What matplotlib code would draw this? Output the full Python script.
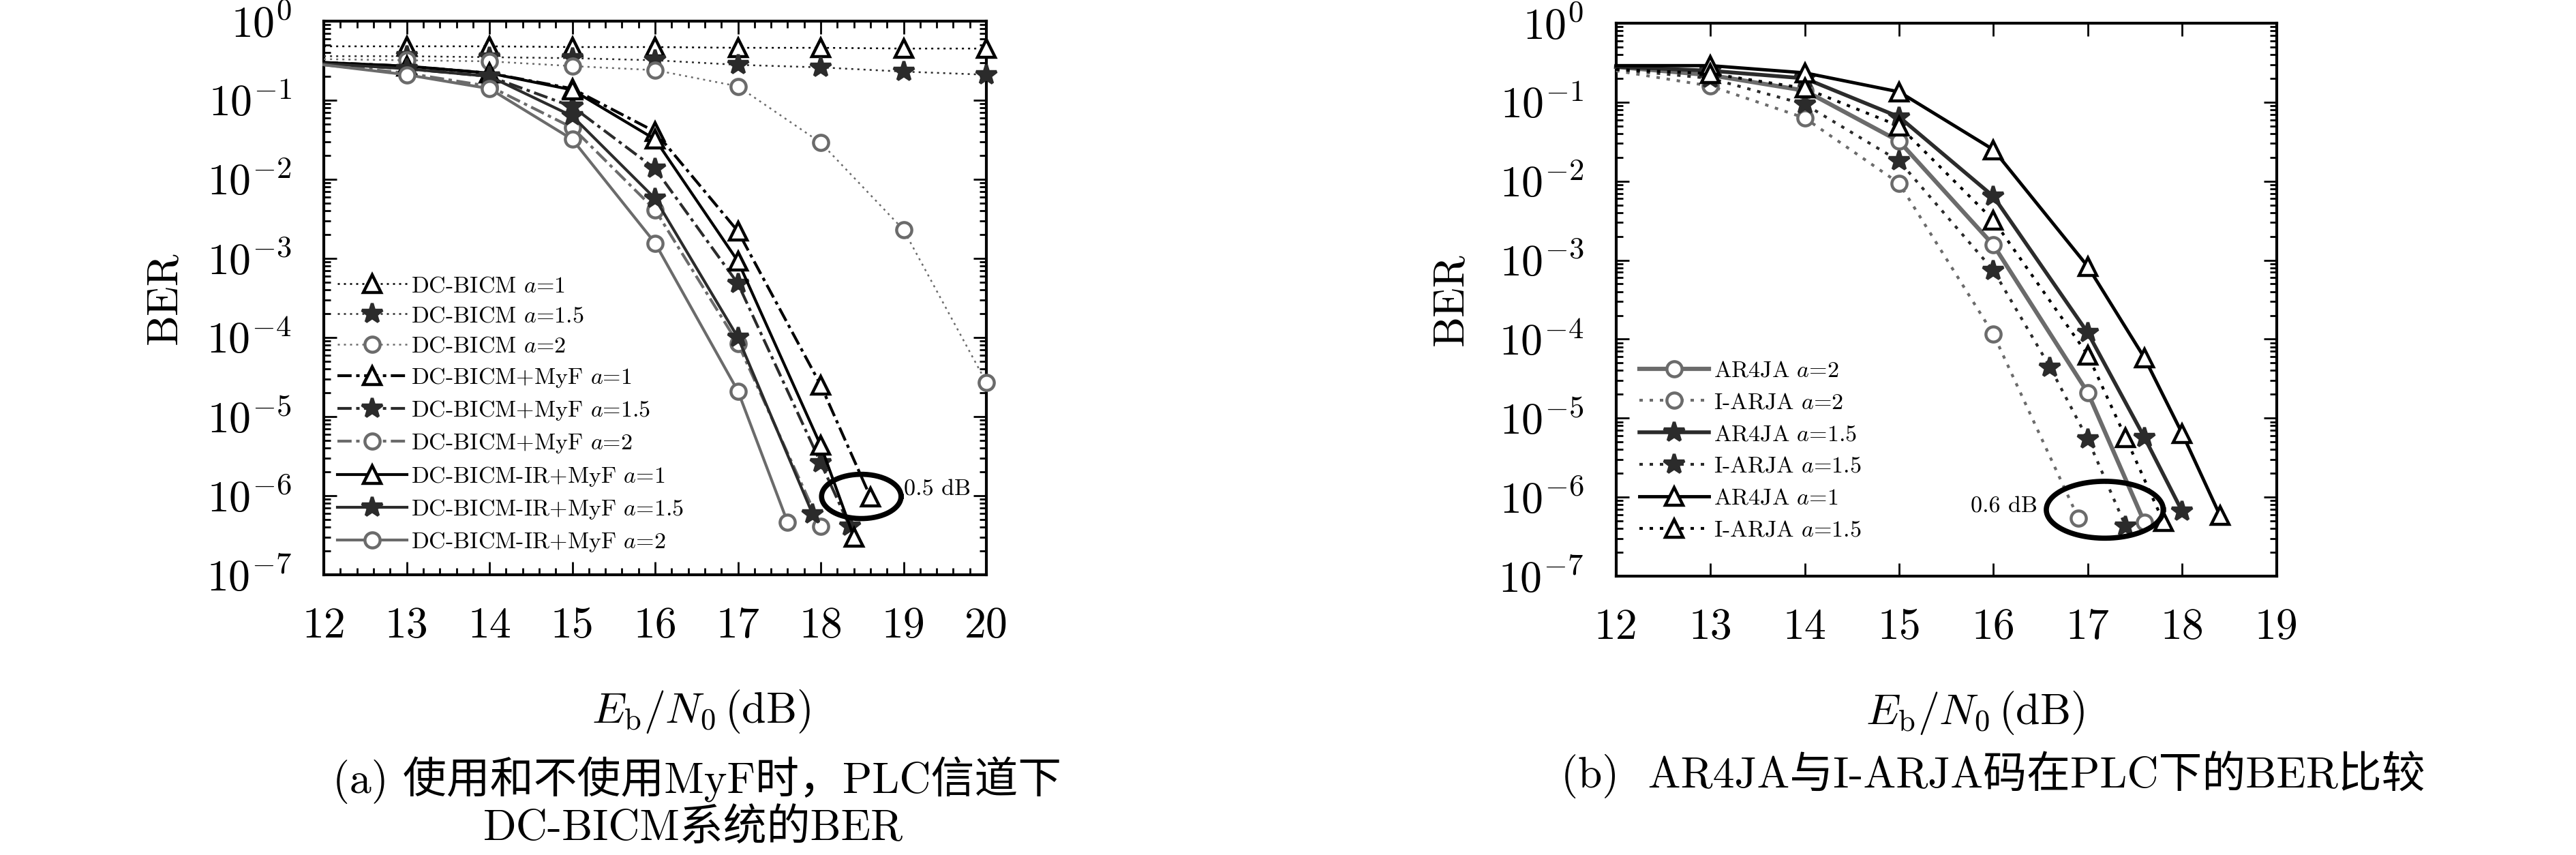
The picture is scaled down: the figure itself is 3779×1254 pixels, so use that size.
"""BER curves: DC-BICM / MyF (a) and AR4JA vs I-ARJA (b)"""
import numpy as np
import matplotlib
matplotlib.use("Agg")
import matplotlib.pyplot as plt
from matplotlib.ticker import FixedLocator, LogLocator, MultipleLocator, NullFormatter

plt.rcParams["font.family"] = ["cmr10", "Noto Sans CJK SC"]
plt.rcParams["mathtext.fontset"] = "cm"
plt.rcParams["axes.unicode_minus"] = False

# ───── Data (a) ────────────────────────────────────────────────────────────
ebn0_dc = [12, 13, 14, 15, 16, 17, 18, 19, 20]
ber_dc_a1 = [0.48, 0.48, 0.48, 0.47, 0.47, 0.46, 0.46, 0.45, 0.45]
ber_dc_a15 = [0.36, 0.36, 0.35, 0.34, 0.32, 0.28, 0.26, 0.23, 0.21]
ber_dc_a2 = [0.33, 0.32, 0.31, 0.27, 0.24, 0.15, 0.029, 2.3e-3, 2.7e-5]

ebn0_myf_a1 = [12, 13, 14, 15, 16, 17, 18, 18.6]
ber_myf_a1 = [0.30, 0.27, 0.22, 0.14, 0.040, 2.2e-3, 2.5e-5, 9.6e-7]
ebn0_myf_a15 = [12, 13, 14, 15, 16, 17, 18, 18.35]
ber_myf_a15 = [0.29, 0.25, 0.20, 0.083, 0.0136, 4.8e-4, 2.6e-6, 4.1e-7]
ebn0_myf_a2 = [12, 13, 14, 15, 16, 17, 18]
ber_myf_a2 = [0.28, 0.22, 0.15, 0.045, 4.1e-3, 8.4e-5, 4.1e-7]

ebn0_ir_a1 = [12, 13, 14, 15, 16, 17, 18, 18.4]
ber_ir_a1 = [0.30, 0.27, 0.22, 0.135, 0.032, 9.2e-4, 4.3e-6, 3.0e-7]
ebn0_ir_a15 = [12, 13, 14, 15, 16, 17, 17.9]
ber_ir_a15 = [0.29, 0.25, 0.20, 0.063, 5.7e-3, 1.0e-4, 5.9e-7]
ebn0_ir_a2 = [12, 13, 14, 15, 16, 17, 17.6]
ber_ir_a2 = [0.28, 0.21, 0.14, 0.032, 1.56e-3, 2.1e-5, 4.6e-7]

labels_a = [
    "DC-BICM $a$=1", "DC-BICM $a$=1.5", "DC-BICM $a$=2",
    "DC-BICM+MyF $a$=1", "DC-BICM+MyF $a$=1.5", "DC-BICM+MyF $a$=2",
    "DC-BICM-IR+MyF $a$=1", "DC-BICM-IR+MyF $a$=1.5", "DC-BICM-IR+MyF $a$=2",
]

# ───── Data (b) ────────────────────────────────────────────────────────────
ebn0_ar_a2 = [12, 13, 14, 15, 16, 17, 17.6]
ber_ar_a2 = [0.28, 0.22, 0.14, 0.032, 1.55e-3, 2.1e-5, 4.8e-7]
ebn0_ia_a2 = [12, 13, 14, 15, 16, 16.9]
ber_ia_a2 = [0.25, 0.16, 0.063, 9.4e-3, 1.15e-4, 5.4e-7]
ebn0_ar_a15 = [12, 13, 14, 15, 16, 17, 17.6, 18]
ber_ar_a15 = [0.28, 0.25, 0.20, 0.065, 6.4e-3, 1.2e-4, 5.7e-6, 6.6e-7]
ebn0_ia_a15 = [12, 13, 14, 15, 16, 16.6, 17, 17.4]
ber_ia_a15 = [0.26, 0.20, 0.094, 0.018, 7.4e-4, 4.4e-5, 5.4e-6, 4.3e-7]
ebn0_ar_a1 = [12, 13, 14, 15, 16, 17, 17.6, 18, 18.4]
ber_ar_a1 = [0.29, 0.29, 0.235, 0.135, 0.025, 8.3e-4, 5.8e-5, 6.4e-6, 5.9e-7]
ebn0_ia_a1 = [12, 13, 14, 15, 16, 17, 17.4, 17.8]
ber_ia_a1 = [0.26, 0.23, 0.15, 0.05, 3.2e-3, 6.3e-5, 5.7e-6, 4.9e-7]

labels_b = [
    "AR4JA $a$=2", "I-ARJA $a$=2", "AR4JA $a$=1.5",
    "I-ARJA $a$=1.5", "AR4JA $a$=1", "I-ARJA $a$=1.5",
]

# ───── Axis ticks / text ──────────────────────────────────────────────────
xticks_a = [12, 13, 14, 15, 16, 17, 18, 19, 20]
xticks_b = [12, 13, 14, 15, 16, 17, 18, 19]
yticks = [1e-7, 1e-6, 1e-5, 1e-4, 1e-3, 1e-2, 1e-1, 1e0]
ytick_labels = ["$10^{%d}$" % e for e in range(-7, 1)]
caption_a = ["(a) 使用和不使用MyF时，PLC信道下", "DC-BICM系统的BER"]
caption_b = "(b)  AR4JA与I-ARJA码在PLC下的BER比较"
note_a = "0.5 dB"
note_b = "0.6 dB"

# ───── Styles ──────────────────────────────────────────────────────────────
BLACK, DARK, GRAY = "#000000", "#2b2b2b", "#6b6b6b"
DOT = (0, (1.2, 2.4))
DASHDOT = (0, (5, 1.6, 1.2, 1.6))
TICK_FS = 46
LEG_FS = 24.5
MS = {"^": 19, "*": 22, "o": 16}

fig = plt.figure(figsize=(37.8, 12.54), dpi=100)
ax_a = fig.add_axes([0.1257, 0.3278, 0.2571, 0.6475])
ax_b = fig.add_axes([0.6272, 0.3262, 0.2563, 0.6467])


def curve(ax, x, y, color, ls, marker, lw, label):
    filled = marker == "*"
    ax.plot(x, y, color=color, linestyle=ls, linewidth=lw, marker=marker,
            markersize=MS[marker], markeredgewidth=3.2,
            markerfacecolor=color if filled else "white",
            markeredgecolor=color, markevery=slice(1, None), label=label,
            clip_on=False, zorder=3)


def ellipse(ax, cx, clog, rx, rlog):
    t = np.linspace(0, 2 * np.pi, 200)
    ax.plot(cx + rx * np.cos(t), 10 ** (clog + rlog * np.sin(t)),
            color="black", linewidth=5.5, zorder=4)


def style_axes(ax, xmax, xticks):
    ax.set_yscale("log")
    ax.set_ylim(1e-7, 1)
    ax.set_xlim(12, xmax)
    ax.set_xticks(xticks)
    ax.set_xticklabels([str(v) for v in xticks], fontsize=TICK_FS)
    ax.yaxis.set_major_locator(FixedLocator(yticks))
    ax.set_yticklabels(ytick_labels, fontsize=TICK_FS)
    ax.yaxis.set_minor_locator(LogLocator(base=10, subs=np.arange(2, 10)))
    ax.yaxis.set_minor_formatter(NullFormatter())
    ax.tick_params(which="both", direction="in", top=True, right=True, width=2)
    ax.tick_params(which="major", length=14, pad=34)
    ax.tick_params(which="minor", length=7)
    for s in ax.spines.values():
        s.set_linewidth(3)
    ax.set_ylabel("BER", fontsize=TICK_FS)
    ax.set_xlabel(r"$E_{\rm b}/N_0\,({\rm dB})$", fontsize=TICK_FS)


# ───── Plot (a) ────────────────────────────────────────────────────────────
curve(ax_a, ebn0_dc, ber_dc_a1, BLACK, DOT, "^", 1.8, labels_a[0])
curve(ax_a, ebn0_dc, ber_dc_a15, DARK, DOT, "*", 1.8, labels_a[1])
curve(ax_a, ebn0_dc, ber_dc_a2, GRAY, DOT, "o", 1.8, labels_a[2])
curve(ax_a, ebn0_myf_a1, ber_myf_a1, BLACK, DASHDOT, "^", 3.0, labels_a[3])
curve(ax_a, ebn0_myf_a15, ber_myf_a15, DARK, DASHDOT, "*", 3.0, labels_a[4])
curve(ax_a, ebn0_myf_a2, ber_myf_a2, GRAY, DASHDOT, "o", 3.0, labels_a[5])
curve(ax_a, ebn0_ir_a1, ber_ir_a1, BLACK, "-", "^", 3.0, labels_a[6])
curve(ax_a, ebn0_ir_a15, ber_ir_a15, DARK, "-", "*", 3.0, labels_a[7])
curve(ax_a, ebn0_ir_a2, ber_ir_a2, GRAY, "-", "o", 3.0, labels_a[8])
style_axes(ax_a, 20, xticks_a)
ax_a.xaxis.set_minor_locator(MultipleLocator(0.2))
ax_a.yaxis.set_label_coords(-0.21, 0.5)
ax_a.xaxis.set_label_coords(0.57, -0.205)
ellipse(ax_a, 18.49, -6.01, 0.48, 0.28)
ax_a.text(19.0, 10 ** -5.92, note_a, fontsize=LEG_FS, ha="left", va="center")
ax_a.legend(loc="upper left", bbox_to_anchor=(0.02, 0.54), frameon=False,
            fontsize=LEG_FS, numpoints=1, handlelength=3.0, handletextpad=0.2,
            labelspacing=0.42, borderpad=0, borderaxespad=0)

# ───── Plot (b) ────────────────────────────────────────────────────────────
curve(ax_b, ebn0_ar_a2, ber_ar_a2, GRAY, "-", "o", 4.5, labels_b[0])
curve(ax_b, ebn0_ia_a2, ber_ia_a2, GRAY, DOT, "o", 3.0, labels_b[1])
curve(ax_b, ebn0_ar_a15, ber_ar_a15, DARK, "-", "*", 4.0, labels_b[2])
curve(ax_b, ebn0_ia_a15, ber_ia_a15, DARK, DOT, "*", 3.0, labels_b[3])
curve(ax_b, ebn0_ar_a1, ber_ar_a1, BLACK, "-", "^", 3.5, labels_b[4])
curve(ax_b, ebn0_ia_a1, ber_ia_a1, BLACK, DOT, "^", 3.0, labels_b[5])
style_axes(ax_b, 19, xticks_b)
ax_b.yaxis.set_label_coords(-0.22, 0.5)
ax_b.xaxis.set_label_coords(0.544, -0.205)
ellipse(ax_b, 17.18, -6.16, 0.62, 0.36)
ax_b.text(16.47, 10 ** -6.12, note_b, fontsize=LEG_FS, ha="right", va="center")
ax_b.legend(loc="upper left", bbox_to_anchor=(0.035, 0.39), frameon=False,
            fontsize=LEG_FS, numpoints=1, handlelength=3.0, handletextpad=0.2,
            labelspacing=0.5, borderpad=0, borderaxespad=0)

# ───── Captions ────────────────────────────────────────────────────────────
fig.text(0.2706, 0.0877, caption_a[0], fontsize=TICK_FS, ha="center", va="center")
fig.text(0.269, 0.031, caption_a[1], fontsize=TICK_FS, ha="center", va="center")
fig.text(0.7735, 0.094, caption_b, fontsize=TICK_FS, ha="center", va="center")

fig.savefig("out.png", dpi=100)
